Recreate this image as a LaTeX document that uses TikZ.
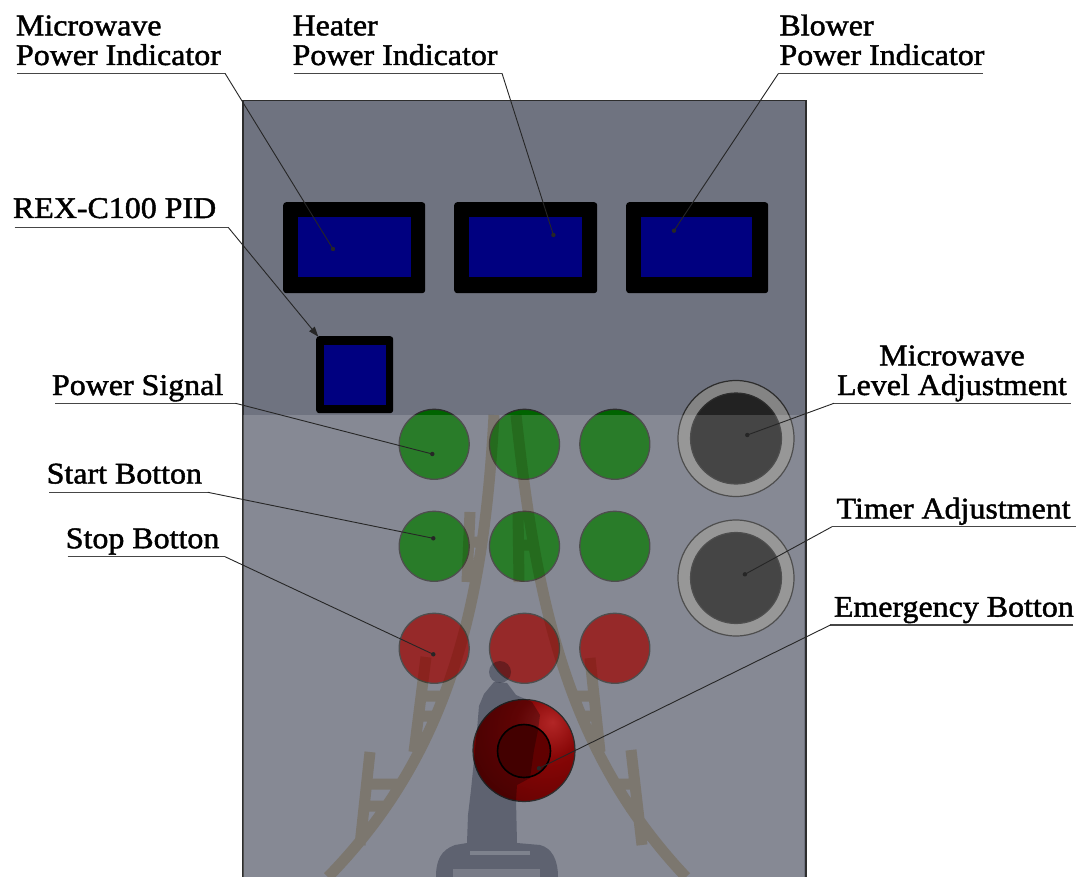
\documentclass[tikz,border=0pt]{standalone}
\usepackage{fontspec}
\setmainfont{Liberation Serif}[FakeStretch=1.065, FakeBold=1.5]
\usetikzlibrary{arrows.meta}

\definecolor{panelgray}{RGB}{111,115,128}
\definecolor{edgegray}{RGB}{45,45,45}
\definecolor{lcdblue}{RGB}{0,0,128}
\definecolor{lampgreen}{RGB}{0,100,0}
\definecolor{lampred}{RGB}{130,0,0}
\definecolor{knobring}{RGB}{132,132,132}
\definecolor{knobcap}{RGB}{34,34,34}
\definecolor{estopA}{RGB}{178,38,38}
\definecolor{estopB}{RGB}{135,6,6}
\definecolor{estopC}{RGB}{88,0,0}
\definecolor{estopcore}{RGB}{96,0,0}
\definecolor{railtan}{RGB}{236,222,192}
\definecolor{statuegray}{RGB}{180,184,194}
\definecolor{leadergray}{RGB}{38,38,38}
\definecolor{rulegray}{RGB}{70,70,70}

\pgfdeclareradialshading{estopshade}{\pgfpoint{14bp}{14bp}}{%
  color(0bp)=(estopA); color(16bp)=(estopB); color(48bp)=(estopC); color(100bp)=(estopC)}

\newcommand\labelfont{\fontsize{30}{29.5}\selectfont}

\begin{document}
\begin{tikzpicture}[x=1pt,y=-1pt,
  lbl/.style={inner sep=0pt, outer sep=0pt, font=\labelfont, text=black},
  frame/.style={fill=black, rounded corners=3pt},
  screen/.style={fill=lcdblue},
  lampG/.style={circle, minimum size=70pt, inner sep=0pt, fill=lampgreen, draw=edgegray, line width=1.3pt},
  lampR/.style={circle, minimum size=70pt, inner sep=0pt, fill=lampred, draw=edgegray, line width=1.3pt},
  knobouter/.style={circle, minimum size=116pt, inner sep=0pt, fill=knobring, draw=edgegray, line width=1.2pt},
  knobinner/.style={circle, minimum size=91pt, inner sep=0pt, fill=knobcap, draw=edgegray, line width=1.2pt},
  leader/.style={draw=leadergray, line width=0.9pt},
  tipdot/.style={fill=leadergray},
  underrule/.style={draw=rulegray, line width=1.4pt}]

\useasboundingbox (0,0) rectangle (1086,877);
\fill[white] (0,0) rectangle (1086,877);

% ---- cabinet front plate ----
\node[draw=edgegray, line width=1.5pt, fill=panelgray, anchor=north west,
      minimum width=563pt, minimum height=800pt, inner sep=0pt] (plate) at (242,100) {};

% ---- power indicator displays ----
\node[frame, anchor=north west, minimum width=142pt, minimum height=91pt, inner sep=0pt] (disp1) at (283,202) {};
\node[screen, anchor=north west, minimum width=113pt, minimum height=60pt, inner sep=0pt] (scr1) at (298,217) {};
\node[frame, anchor=north west, minimum width=143pt, minimum height=91pt, inner sep=0pt] (disp2) at (454,202) {};
\node[screen, anchor=north west, minimum width=113pt, minimum height=60pt, inner sep=0pt] (scr2) at (469,217) {};
\node[frame, anchor=north west, minimum width=142pt, minimum height=91pt, inner sep=0pt] (disp3) at (626,202) {};
\node[screen, anchor=north west, minimum width=111pt, minimum height=60pt, inner sep=0pt] (scr3) at (641,217) {};

% ---- PID controller ----
\node[frame, anchor=north west, minimum width=77pt, minimum height=77pt, inner sep=0pt] (pid) at (316,336) {};
\node[screen, anchor=north west, minimum width=62pt, minimum height=60pt, inner sep=0pt] (pidscr) at (324,345) {};

% ---- pilot lamps and push buttons ----
\node[lampG] (g11) at (434.2,444.3) {};
\node[lampG] (g12) at (524.5,444.3) {};
\node[lampG] (g13) at (614.8,444.3) {};
\node[lampG] (g21) at (434.2,546.3) {};
\node[lampG] (g22) at (524.5,546.3) {};
\node[lampG] (g23) at (614.8,546.3) {};
\node[lampR] (r31) at (434.2,648.3) {};
\node[lampR] (r32) at (524.5,648.3) {};
\node[lampR] (r33) at (614.8,648.3) {};

% ---- rotary knobs ----
\node[knobouter] (mwring) at (736,438.5) {};
\node[knobinner] (mwknob) at (736,438.5) {};
\node[knobouter] (tmring) at (736,578) {};
\node[knobinner] (tmknob) at (736,578) {};

% ---- lower half of the plate: pale layer ----
\fill[white, opacity=0.16] (242.8,415) rectangle (804.2,877);

% ---- emergency stop ----
\node[circle, minimum size=102pt, inner sep=0pt, shading=estopshade, draw=edgegray, line width=1.2pt] (estop) at (524,750.5) {};
\node[circle, minimum size=53pt, inner sep=0pt, fill=estopcore, draw=black, line width=1.6pt] (estopcore) at (524,751) {};

% ---- watermark: track and statue ----
\begin{scope}[blend mode=multiply]
  \draw[railtan, line width=11pt]
    (494,415) .. controls (484,600) and (452,750) .. (328,877)
    (516,415) .. controls (536,600) and (566,750) .. (686,877)
    (470,512) -- (467,582)  (469,542) -- (486,542)
    (426,657) -- (414,752)  (420,696) -- (444,696)  (418,716) -- (437,716)
    (370,752) -- (360,845)  (366,784) -- (399,784)  (364,806) -- (388,806)
    (518,512) -- (519,582)  (518,545) -- (536,545)
    (590,658) -- (600,752)  (576,696) -- (594,696)  (583,716) -- (597,716)
    (631,750) -- (642,845)  (614,784) -- (636,784)  (626,806) -- (638,806);
  \fill[statuegray] (500,672) circle[radius=11];
  \fill[statuegray]
    (494,682) -- (484,694) -- (479,706) -- (477,730) -- (474,760) -- (471,790)
    -- (468,815) -- (467,843) -- (455,845)
    .. controls (441,850) and (436,860) .. (436,877) -- (558,877)
    .. controls (558,860) and (552,848) .. (540,845) -- (517,843)
    -- (516,800) -- (517,785) -- (530,778) -- (534,750) -- (538,730)
    -- (540,715) -- (532,702) -- (516,695) -- (507,683) -- cycle;
\end{scope}
\fill[panelgray!70!white, opacity=0.55] (470,851) rectangle (530,855);
\fill[panelgray!70!white, opacity=0.45] (453,869) rectangle (540,877);

% ---- leader end points ----
\coordinate (mpiT) at (333,249);
\coordinate (hpiT) at (553.4,235);
\coordinate (bpiT) at (674,230.7);
\coordinate (pidT) at (318.3,336.7);
\coordinate (psT)  at (432.3,454);
\coordinate (staT) at (433.3,538.3);
\coordinate (stoT) at (433.3,654.3);
\coordinate (mlaT) at (747.3,435);
\coordinate (tmT)  at (744.9,574.3);
\coordinate (esT)  at (539,768.3);

% ---- label rules ----
\coordinate (mpiA) at (17,73.3);    \coordinate (mpiB) at (225,73.3);
\coordinate (hpiA) at (293.6,73.3); \coordinate (hpiB) at (502,73.3);
\coordinate (bpiA) at (778.5,73.3); \coordinate (bpiB) at (983,73.3);
\coordinate (pidA) at (14.5,227.7); \coordinate (pidB) at (228.5,227.7);
\coordinate (psA)  at (55,403.3);   \coordinate (psB)  at (235.5,403.3);
\coordinate (staA) at (49,492.3);   \coordinate (staB) at (207.8,492.3);
\coordinate (stoA) at (67.5,556.7); \coordinate (stoB) at (225,556.7);
\coordinate (mlaA) at (833.9,403.3);\coordinate (mlaB) at (1071,403.3);
\coordinate (tmA)  at (832,526.7);  \coordinate (tmB)  at (1076,526.7);
\coordinate (esA)  at (830.4,625);  \coordinate (esB)  at (1072.8,625);

\foreach \u in {mpi,hpi,bpi,pid,ps,sta,sto,mla,tm,es}
  \draw[underrule] (\u A) -- (\u B);

% ---- leaders ----
\draw[leader] (mpiB) -- (mpiT);
\draw[leader] (hpiB) -- (hpiT);
\draw[leader] (bpiA) -- (bpiT);
\draw[leader, -{Triangle[length=10pt,width=7pt]}] (pidB) -- (pidT);
\draw[leader] (psB) -- (psT);
\draw[leader] (staB) -- (staT);
\draw[leader] (stoB) -- (stoT);
\draw[leader] (mlaA) -- (mlaT);
\draw[leader] (tmA) -- (tmT);
\draw[leader] (esA) -- (esT);
\foreach \t in {mpiT,hpiT,bpiT,psT,staT,stoT,mlaT,tmT,esT}
  \fill[tipdot] (\t) circle[radius=2.2];

% ---- labels ----
\node[lbl, anchor=base west] (mpiL) at (16,65)
  {\begin{tabular}[b]{@{}l@{}}Microwave\\Power Indicator\end{tabular}};
\node[lbl, anchor=base west] (hpiL) at (292.6,65)
  {\begin{tabular}[b]{@{}l@{}}Heater\\Power Indicator\end{tabular}};
\node[lbl, anchor=base west] (bpiL) at (779.5,65)
  {\begin{tabular}[b]{@{}l@{}}Blower\\Power Indicator\end{tabular}};
\node[lbl, anchor=base west] (pidL) at (13,218) {REX-C100 PID};
\node[lbl, anchor=base west] (psL)  at (52,395) {Power Signal};
\node[lbl, anchor=base west] (staL) at (46.7,483.5) {Start Botton};
\node[lbl, anchor=base west] (stoL) at (65.8,548.2) {Stop Botton};
\node[lbl, anchor=base] (mlaL) at (952,395)
  {\begin{tabular}[b]{@{}c@{}}Microwave\\Level Adjustment\end{tabular}};
\node[lbl, anchor=base west] (tmL)  at (836.6,518.5) {Timer Adjustment};
\node[lbl, anchor=base west] (esL)  at (833.9,616.7) {Emergency Botton};

\end{tikzpicture}
\end{document}
